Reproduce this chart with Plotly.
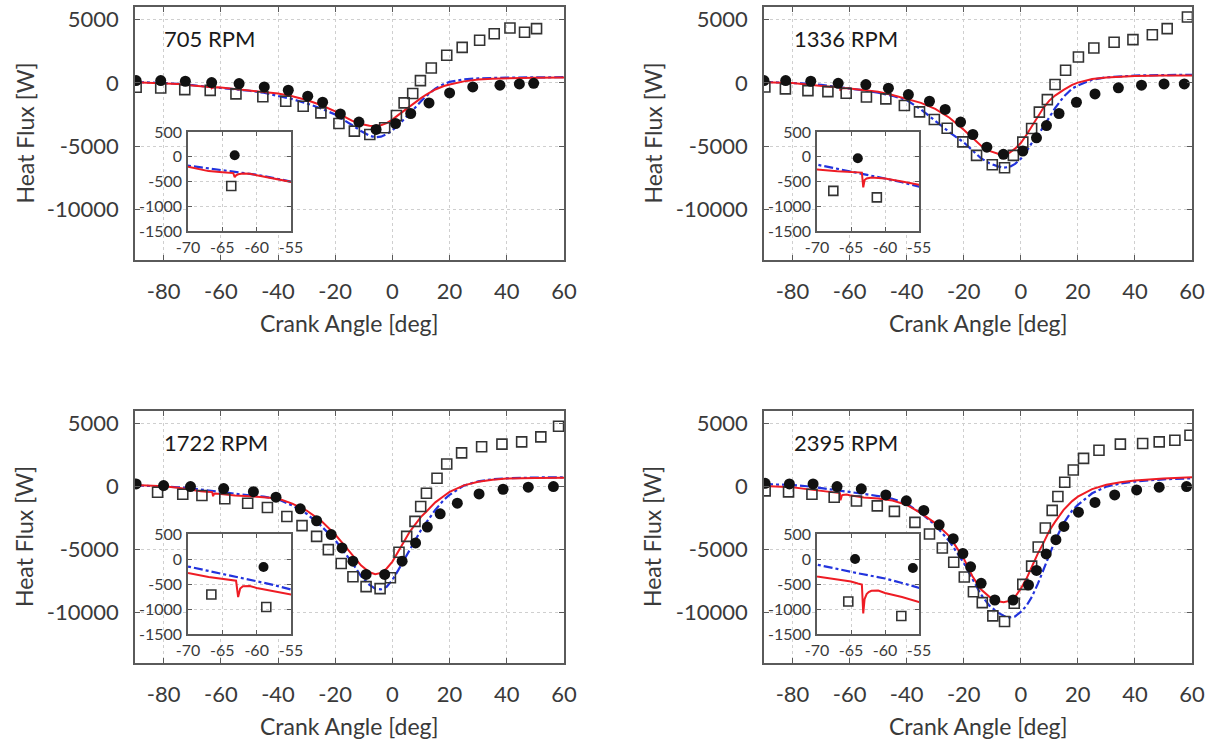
import plotly.graph_objects as go

W, H = 1220, 747

# ---------------- data ----------------
crank_angle = [-90, -85, -80, -75, -70, -67, -65, -64, -63.4, -63.2, -63.0, -62.7, -62.4, -62.0,
               -61, -60, -57.5, -55, -50, -45, -40, -35, -30, -25, -20, -17, -14, -11, -8, -6,
               -4, -2, 0, 2, 4, 6, 8, 10, 12, 15, 18, 20, 25, 30, 35, 40, 50, 60]

rpm_labels = ["705 RPM", "1336 RPM", "1722 RPM", "2395 RPM"]

red_705 = [50, 20, 0, -80, -200, -290, -315, -325, -330, -415, -375, -355, -345, -340,
           -345, -365, -420, -480, -580, -700, -830, -1050, -1350, -1750, -2250, -2650, -3000, -3250, -3380, -3400,
           -3350, -3180, -2900, -2550, -2200, -1850, -1500, -1200, -900, -520, -250, -120, 120, 260, 330, 370, 410, 420]
blue_705 = [80, 40, 0, -70, -180, -240, -280, -295, -305, -308, -312, -318, -323, -330,
            -345, -362, -420, -490, -620, -780, -1000, -1280, -1620, -2020, -2500, -2900, -3350, -3800, -4180, -4300,
            -4250, -4050, -3750, -3350, -2900, -2450, -1950, -1450, -1000, -450, -80, 80, 280, 360, 400, 420, 440, 450]

red_1336 = [50, 20, 0, -120, -260, -295, -310, -318, -320, -620, -470, -440, -428, -420,
            -430, -440, -500, -560, -700, -950, -1250, -1580, -2050, -2750, -3700, -4350, -4950, -5380, -5600, -5650,
            -5520, -5200, -4750, -4100, -3400, -2600, -1950, -1400, -1000, -550, -150, 20, 300, 420, 490, 540, 580, 590]
blue_1336 = [80, 40, 0, -60, -160, -240, -300, -330, -345, -350, -355, -365, -375, -385,
             -415, -440, -515, -590, -780, -1020, -1350, -2100, -3000, -3900, -4700, -5300, -5950, -6350, -6600, -6700,
             -6650, -6400, -6000, -5400, -4700, -4150, -3450, -2650, -2000, -1100, -450, -200, 250, 440, 520, 580, 620, 640]

red_1722 = [120, 70, 20, -100, -280, -360, -400, -420, -428, -430, -435, -760, -590, -545,
            -540, -580, -640, -710, -760, -830, -950, -1350, -1900, -2700, -3800, -4600, -5450, -6250, -6800, -6950,
            -6850, -6500, -5950, -5200, -4350, -3600, -3000, -2400, -1950, -1250, -750, -420, 100, 380, 550, 640, 690, 710]
blue_1722 = [100, 60, 20, -50, -150, -240, -300, -330, -345, -350, -355, -362, -370, -380,
             -410, -440, -520, -610, -700, -800, -1000, -1500, -2150, -3100, -4250, -5150, -6050, -7100, -7800, -8100,
             -8150, -7950, -7400, -6650, -5850, -5000, -4200, -3450, -2800, -1850, -1050, -650, 80, 420, 580, 660, 720, 740]

red_2395 = [50, 0, -50, -200, -350, -410, -450, -490, -510, -1090, -800, -700, -660, -635,
            -630, -680, -760, -860, -950, -1100, -1450, -2100, -2900, -3950, -5700, -7100, -8150, -8750, -9100, -9180,
            -9070, -8750, -8100, -7300, -6300, -5300, -4450, -3500, -2800, -1850, -1150, -800, -200, 150, 350, 480, 650, 740]
blue_2395 = [200, 170, 120, 30, -120, -200, -260, -285, -300, -305, -310, -318, -325, -335,
             -360, -390, -480, -580, -750, -960, -1370, -2100, -3050, -4350, -6050, -7350, -8550, -9450, -10000, -10250,
             -10380, -10300, -9950, -9450, -8700, -7700, -6600, -5400, -4300, -2900, -1900, -1450, -530, 0, 250, 400, 580, 660]

circ_x_705 = [-89.6, -81.0, -72.4, -63.2, -53.6, -44.8, -36.4, -29.6, -24.4, -18.2, -11.7, -5.7, 1.1, 6.4,
              12.8, 20.0, 28.1, 37.6, 44.4, 49.4]
circ_y_705 = [180, 180, 130, 30, -50, -320, -580, -1050, -1530, -2450, -3100, -3680, -3210, -2420,
              -1580, -790, -320, -180, -80, -30]
sq_x_705 = [-89.6, -81.0, -72.6, -63.7, -54.7, -45.3, -37.3, -31.2, -25.0, -18.7, -13.3, -7.9, -2.7, 1.4,
            4.1, 7.1, 9.8, 13.6, 19.0, 24.4, 30.5, 35.6, 41.1, 46.2, 50.4]
sq_y_705 = [-340, -400, -530, -590, -870, -1100, -1450, -1840, -2370, -3210, -3810, -4080, -3550, -2580,
            -1580, -840, 180, 1180, 2180, 2810, 3370, 3890, 4340, 4000, 4290]

circ_x_1336 = [-90.0, -82.4, -73.6, -64.0, -54.3, -46.4, -39.4, -32.0, -26.5, -21.1, -16.8, -11.9, -6.1, 0.7,
               5.5, 9.0, 13.4, 19.5, 26.0, 34.2, 42.3, 50.2, 57.3]
circ_y_1336 = [180, 180, 130, -30, -130, -420, -920, -1450, -2100, -3100, -4080, -5080, -5650, -5390,
               -4340, -3370, -2420, -1530, -870, -390, -180, -80, -80]
sq_x_1336 = [-89.7, -82.5, -74.6, -67.6, -61.2, -54.1, -47.3, -40.8, -35.5, -30.3, -25.8, -20.3, -15.5, -10.0,
             -5.7, -2.6, 0.7, 3.8, 6.5, 9.3, 12.0, 15.7, 20.2, 25.6, 32.7, 39.3, 46.1, 51.3, 58.4]
sq_y_1336 = [-320, -470, -610, -690, -820, -1110, -1260, -1790, -2290, -2890, -3580, -4660, -5730, -6470,
             -6710, -5730, -4680, -3600, -2310, -1320, -130, 1000, 2050, 2760, 3210, 3420, 3810, 4290, 5210]

circ_x_1722 = [-89.6, -80.0, -70.6, -59.0, -48.6, -40.7, -32.2, -26.5, -21.4, -17.6, -13.8, -9.2, -2.7, 3.4,
               8.1, 12.2, 16.7, 22.7, 30.3, 38.7, 47.5, 56.3]
circ_y_1722 = [210, 80, 0, -160, -400, -840, -1760, -2710, -3810, -4870, -5920, -6970, -6970, -5920,
               -4470, -3210, -2160, -1320, -580, -210, -50, 0]
sq_x_1722 = [-82.1, -73.3, -66.6, -58.6, -50.6, -43.7, -36.9, -31.6, -26.5, -22.4, -17.9, -13.8, -9.2, -4.3,
             -0.7, 2.3, 5.0, 7.9, 9.9, 11.9, 15.6, 19.0, 24.2, 31.2, 38.3, 45.2, 51.9, 58.1]
sq_y_1722 = [-450, -610, -710, -960, -1320, -1660, -2370, -3100, -3950, -5000, -6100, -7150, -7940, -8100,
             -7230, -5210, -3950, -2760, -1580, -530, 660, 1790, 2680, 3160, 3370, 3550, 3950, 4790]

circ_x_2395 = [-89.6, -81.1, -72.8, -64.4, -55.9, -47.3, -40.1, -34.0, -28.6, -23.7, -20.3, -17.6, -13.9, -9.1,
               -2.7, 2.7, 5.5, 8.9, 12.3, 15.1, 20.2, 26.0, 32.9, 40.6, 48.5, 58.1]
circ_y_2395 = [260, 210, 210, 0, -180, -660, -1130, -1890, -3030, -4130, -5310, -6370, -7680, -9000,
               -9000, -7810, -6650, -5340, -4210, -3160, -2030, -1260, -660, -260, -50, 0]
sq_x_2395 = [-89.6, -81.4, -73.2, -65.4, -57.6, -50.3, -44.3, -37.1, -32.0, -27.5, -23.5, -19.8, -16.6, -13.5,
             -9.8, -5.7, -2.3, 0.7, 3.8, 6.1, 8.6, 11.0, 13.0, 15.4, 18.4, 22.0, 27.4, 34.9, 42.7, 48.5, 54.0, 59.3]
sq_y_2395 = [-340, -420, -610, -850, -1140, -1530, -1970, -2840, -3760, -4870, -6000, -7180, -8340, -9210,
             -10260, -10710, -9260, -7760, -6310, -4790, -3290, -1890, -790, 340, 1320, 2240, 2890, 3370, 3420, 3550, 3680, 4080]

x_tick_vals = [-80, -60, -40, -20, 0, 20, 40, 60]
x_tick_text = ["-80", "-60", "-40", "-20", "0", "20", "40", "60"]
y_tick_vals = [-10000, -5000, 0, 5000]
y_tick_text = ["-10000", "-5000", "0", "5000"]
inset_x_vals = [-70, -65, -60, -55]
inset_x_text = ["-70", "-65", "-60", "-55"]
inset_y_vals = [-1500, -1000, -500, 0, 500]
inset_y_text = ["-1500", "-1000", "-500", "0", "500"]
inset_x_range = [-70, -55]

panels = [
    (red_705, blue_705, circ_x_705, circ_y_705, sq_x_705, sq_y_705),
    (red_1336, blue_1336, circ_x_1336, circ_y_1336, sq_x_1336, sq_y_1336),
    (red_1722, blue_1722, circ_x_1722, circ_y_1722, sq_x_1722, sq_y_1722),
    (red_2395, blue_2395, circ_x_2395, circ_y_2395, sq_x_2395, sq_y_2395),
]

# ---------------- layout geometry (pixels) ----------------
main_boxes = [(135, 564, 7, 260), (764, 1192, 7, 260), (135, 564, 411, 663), (764, 1192, 411, 663)]
inset_boxes = [(188, 291, 132, 231), (817, 919, 132, 231), (188, 291, 534, 634), (817, 919, 534, 634)]


def dx(a, b):
    return [a / W, b / W]


def dy(top, bottom):
    return [1 - bottom / H, 1 - top / H]


def in_window(xs, ys, lo, hi):
    pts = [(a, b) for a, b in zip(xs, ys) if lo <= a <= hi]
    return [p[0] for p in pts], [p[1] for p in pts]


FONT = "Lato, 'Open Sans', sans-serif"
RED = "#ee1c24"
BLUE = "#2233dd"
AX = "#5a5a5a"
GRID = "#cfcfcf"
TXT = "#3a3a3a"

fig = go.Figure()

for i, (red, blue, cx, cy, sx, sy) in enumerate(panels):
    for k, kind in ((i + 1, "main"), (i + 5, "inset")):
        xa = "x" if k == 1 else f"x{k}"
        ya = "y" if k == 1 else f"y{k}"
        if kind == "inset":
            sxx, syy = in_window(sx, sy, *inset_x_range)
            cxx, cyy = in_window(cx, cy, *inset_x_range)
        else:
            sxx, syy, cxx, cyy = sx, sy, cx, cy
        fig.add_trace(go.Scatter(x=crank_angle, y=blue, mode="lines", xaxis=xa, yaxis=ya,
                                 line=dict(color=BLUE, width=2.2, dash="dashdot"), showlegend=False))
        fig.add_trace(go.Scatter(x=crank_angle, y=red, mode="lines", xaxis=xa, yaxis=ya,
                                 line=dict(color=RED, width=2), showlegend=False))
        fig.add_trace(go.Scatter(x=sxx, y=syy, mode="markers", xaxis=xa, yaxis=ya,
                                 marker=dict(symbol="square-open", size=10 if kind == "main" else 9,
                                             color="#333333", line=dict(width=1.6)),
                                 showlegend=False))
        fig.add_trace(go.Scatter(x=cxx, y=cyy, mode="markers", xaxis=xa, yaxis=ya,
                                 marker=dict(symbol="circle", size=11 if kind == "main" else 10,
                                             color="#111111"),
                                 showlegend=False))

layout = dict(width=W, height=H, margin=dict(l=0, r=0, t=0, b=0, autoexpand=False),
              paper_bgcolor="white", plot_bgcolor="white", showlegend=False,
              font=dict(family=FONT, color="#333333"))

common = dict(showgrid=True, gridcolor=GRID, griddash="dot", gridwidth=1, zeroline=False,
              showline=True, linecolor=AX, linewidth=1.5, mirror="ticks", automargin=False,
              ticks="inside", tickcolor=AX, tickwidth=1.2, tickmode="array")

for i in range(4):
    x0, x1, t, b = main_boxes[i]
    k = i + 1
    xn = "xaxis" if k == 1 else f"xaxis{k}"
    yn = "yaxis" if k == 1 else f"yaxis{k}"
    layout[xn] = dict(common, domain=dx(x0, x1), anchor="y" if k == 1 else f"y{k}", range=[-90, 60],
                      tickvals=x_tick_vals, ticktext=x_tick_text, ticklen=5,
                      tickfont=dict(size=22, color=TXT, family=FONT), ticklabelstandoff=11)
    layout[yn] = dict(common, domain=dy(t, b), anchor="x" if k == 1 else f"x{k}", range=[-14000, 6000],
                      tickvals=y_tick_vals, ticktext=y_tick_text, ticklen=5,
                      tickfont=dict(size=22, color=TXT, family=FONT), ticklabelstandoff=10)

for i in range(4):
    x0, x1, t, b = inset_boxes[i]
    k = i + 5
    layout[f"xaxis{k}"] = dict(common, domain=dx(x0, x1), anchor=f"y{k}", range=inset_x_range,
                               tickvals=inset_x_vals, ticktext=inset_x_text, ticklen=4,
                               tickfont=dict(size=16, color=TXT, family=FONT), ticklabelstandoff=1)
    layout[f"yaxis{k}"] = dict(common, domain=dy(t, b), anchor=f"x{k}", range=[-1500, 500],
                               tickvals=inset_y_vals, ticktext=inset_y_text, ticklen=4,
                               tickfont=dict(size=16, color=TXT, family=FONT), ticklabelstandoff=1)

annotations = []
rpm_pos = [(162, 39), (792, 39), (162, 442), (792, 442)]
ytitle_x = [24, 652, 24, 652]
for i in range(4):
    x0, x1, t, b = main_boxes[i]
    px, py = rpm_pos[i]
    annotations.append(dict(text=rpm_labels[i], x=px / W, y=1 - py / H, xref="paper", yref="paper",
                            xanchor="left", yanchor="middle", showarrow=False,
                            font=dict(size=22, color="#1a1a1a", family=FONT)))
    annotations.append(dict(text="Heat Flux [W]", x=ytitle_x[i] / W, y=1 - (t + b) / 2 / H,
                            xref="paper", yref="paper", xanchor="center", yanchor="middle",
                            textangle=-90, showarrow=False, font=dict(size=23, color=TXT, family=FONT)))
    annotations.append(dict(text="Crank Angle [deg]", x=(x0 + x1) / 2 / W, y=1 - (b + 63) / H,
                            xref="paper", yref="paper", xanchor="center", yanchor="middle",
                            showarrow=False, font=dict(size=23, color=TXT, family=FONT)))
layout["annotations"] = annotations

fig.update_layout(**layout)
fig.write_html("out.html")
